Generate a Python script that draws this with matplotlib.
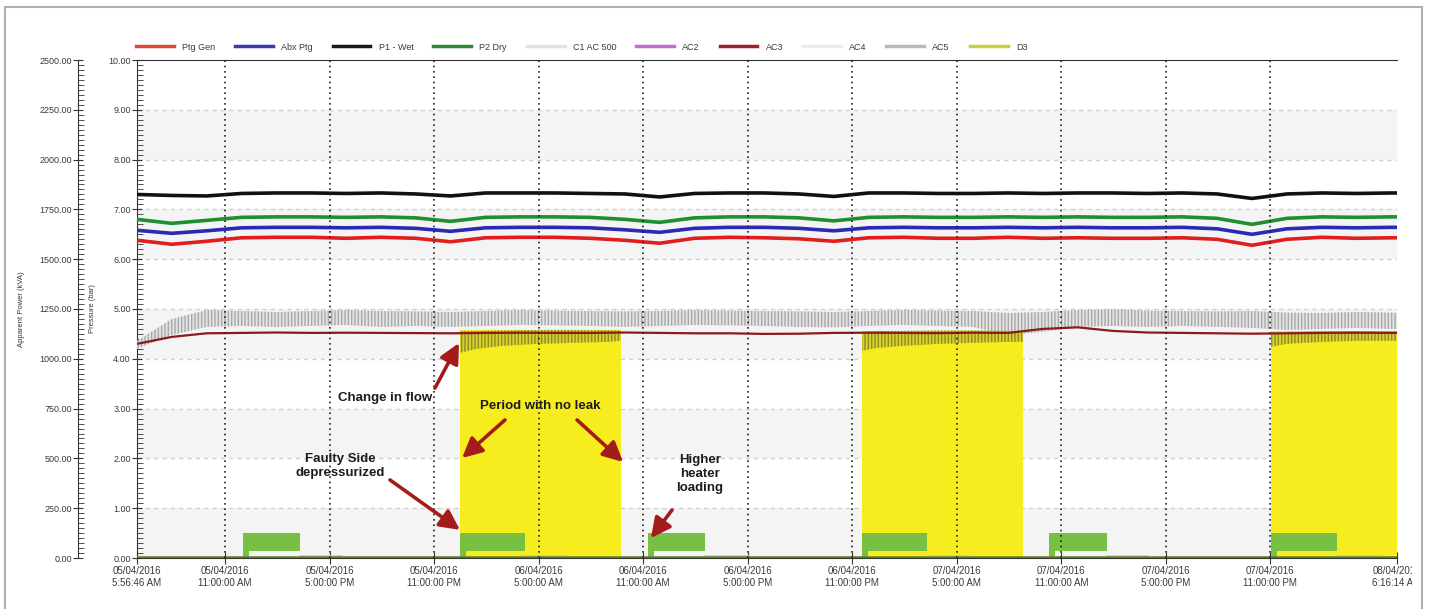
import matplotlib
matplotlib.use('Agg')
import matplotlib.pyplot as plt
from matplotlib.lines import Line2D
from matplotlib.patches import Rectangle
from matplotlib.transforms import Bbox
from matplotlib.ticker import MultipleLocator, FormatStrFormatter
from datetime import datetime, timedelta

plt.rcParams['font.family'] = ['Liberation Sans', 'DejaVu Sans']
plt.rcParams['hatch.linewidth'] = 1.0

# ---------------- data ----------------
start = datetime(2016, 4, 5, 5, 56, 46)
end = datetime(2016, 4, 8, 6, 16, 14)

# hours after start
t_h = [0, 2, 4, 6, 8, 10, 12, 14, 16, 18, 20, 22, 24, 26, 28, 30, 32, 34, 36,
       38, 40, 42, 44, 46, 48, 50, 52, 54, 56, 58, 60, 62, 64, 66, 68, 70, 72, 72.32]

# pressures (bar)
p1_wet = [7.30, 7.28, 7.27, 7.32, 7.33, 7.33, 7.32, 7.33, 7.31, 7.27, 7.33, 7.33, 7.33,
          7.32, 7.31, 7.25, 7.32, 7.33, 7.33, 7.31, 7.26, 7.33, 7.33, 7.32, 7.32, 7.33,
          7.32, 7.33, 7.33, 7.32, 7.33, 7.31, 7.22, 7.31, 7.33, 7.32, 7.33, 7.33]
p2_dry = [6.80, 6.72, 6.78, 6.84, 6.85, 6.85, 6.84, 6.85, 6.83, 6.76, 6.84, 6.85, 6.85,
          6.84, 6.80, 6.74, 6.83, 6.85, 6.85, 6.83, 6.77, 6.84, 6.85, 6.84, 6.84, 6.85,
          6.84, 6.85, 6.84, 6.84, 6.85, 6.82, 6.70, 6.82, 6.85, 6.84, 6.85, 6.85]
abx_ptg = [6.58, 6.52, 6.57, 6.63, 6.64, 6.64, 6.63, 6.64, 6.62, 6.56, 6.63, 6.64, 6.64,
           6.63, 6.59, 6.54, 6.62, 6.64, 6.64, 6.62, 6.57, 6.63, 6.64, 6.63, 6.63, 6.64,
           6.63, 6.64, 6.63, 6.63, 6.64, 6.61, 6.50, 6.61, 6.64, 6.63, 6.64, 6.64]
ptg_gen = [6.38, 6.30, 6.36, 6.43, 6.44, 6.44, 6.42, 6.44, 6.42, 6.35, 6.43, 6.44, 6.44,
           6.42, 6.38, 6.32, 6.42, 6.44, 6.43, 6.41, 6.36, 6.43, 6.44, 6.42, 6.42, 6.44,
           6.42, 6.43, 6.42, 6.42, 6.43, 6.40, 6.28, 6.40, 6.44, 6.42, 6.43, 6.43]

# apparent power (kVA)
ac3 = [1075, 1110, 1128, 1130, 1132, 1130, 1131, 1130, 1129, 1128, 1130, 1131, 1130,
       1130, 1132, 1130, 1128, 1128, 1125, 1126, 1130, 1131, 1130, 1129, 1131, 1130,
       1150, 1158, 1140, 1132, 1130, 1128, 1126, 1128, 1130, 1131, 1130, 1130]
ac5_hi = [1090, 1200, 1245, 1240, 1235, 1240, 1245, 1240, 1238, 1235, 1240, 1245, 1242,
          1240, 1238, 1240, 1245, 1242, 1240, 1238, 1235, 1240, 1245, 1242, 1240, 1230,
          1235, 1245, 1250, 1242, 1240, 1238, 1240, 1232, 1230, 1235, 1232, 1230]
ac5_lo = [1050, 1120, 1160, 1165, 1160, 1165, 1170, 1160, 1165, 1160, 1165, 1170, 1168,
          1165, 1160, 1165, 1170, 1168, 1165, 1160, 1158, 1165, 1170, 1165, 1160, 1120,
          1135, 1160, 1165, 1160, 1165, 1160, 1155, 1145, 1150, 1155, 1150, 1150]

# D3 running periods (hours after start) and its band of values (kVA)
d3_t1 = [18.54, 19.5, 21, 23, 25, 27, 27.78]
d3_hi1 = [1140, 1140, 1142, 1145, 1145, 1143, 1142]
d3_lo1 = [1030, 1050, 1065, 1075, 1080, 1085, 1090]
d3_t2 = [41.62, 42.5, 44, 46, 48, 50, 50.86]
d3_hi2 = [1135, 1140, 1140, 1142, 1142, 1140, 1140]
d3_lo2 = [1040, 1055, 1065, 1075, 1080, 1085, 1085]
d3_t3 = [65.1, 66, 68, 70, 72.32]
d3_hi3 = [1130, 1135, 1138, 1138, 1138]
d3_lo3 = [1060, 1075, 1085, 1090, 1090]
d3_top = [1145, 1140, 1138]

# heater load blocks (hours after start), kVA
block_start = [6.08, 18.54, 29.33, 41.62, 52.35, 65.10]
block_end = [9.36, 22.27, 32.60, 45.35, 55.68, 68.89]
block_top = 125
block_base = 35
tail_end = [11.7, 24.6, 35.0, 47.7, 58.0, 71.2]
tail_level = 12

legend_names = ['Ptg Gen', 'Abx Ptg', 'P1 - Wet', 'P2 Dry', 'C1 AC 500',
                'AC2', 'AC3', 'AC4', 'AC5', 'D3']
legend_colors = ['#e0463a', '#3a3aa8', '#1a1a1a', '#2e8b35', '#e2e2e2',
                 '#c070c8', '#a0202a', '#ececec', '#b8b8b8', '#c8d040']

tick_times = [start, datetime(2016, 4, 5, 11), datetime(2016, 4, 5, 17),
              datetime(2016, 4, 5, 23), datetime(2016, 4, 6, 5), datetime(2016, 4, 6, 11),
              datetime(2016, 4, 6, 17), datetime(2016, 4, 6, 23), datetime(2016, 4, 7, 5),
              datetime(2016, 4, 7, 11), datetime(2016, 4, 7, 17), datetime(2016, 4, 7, 23), end]


def at(hours):
    return [start + timedelta(hours=h) for h in hours]


def fmt(d):
    h12 = d.hour % 12 or 12
    ampm = 'AM' if d.hour < 12 else 'PM'
    return f"{d:%d/%m/%Y}\n{h12}:{d:%M:%S} {ampm}"


# ---------------- figure ----------------
W, H = 1429, 609
fig = plt.figure(figsize=(W / 100, H / 100), dpi=100)
fig.patch.set_facecolor('white')
ax = fig.add_axes([137 / W, (H - 558) / H, 1260 / W, 498 / H])
ax2 = ax.twinx()

ax.set_xlim(start, end)
ax.set_ylim(0, 10)
ax2.set_ylim(0, 2500)

# background bands and horizontal grid
for lo in [0, 2, 4, 6, 8]:
    ax.axhspan(lo, lo + 1, color='#f4f4f4', zorder=0, lw=0)
for y in range(1, 10):
    ax.axhline(y, color='#cfcfcf', lw=1, ls=(0, (3, 3)), zorder=0.5)

# pressure lines
ax.plot(at(t_h), ptg_gen, color='#e01e1e', lw=2.6, zorder=3)
ax.plot(at(t_h), abx_ptg, color='#2a2ab4', lw=2.6, zorder=3)
ax.plot(at(t_h), p2_dry, color='#1f8f2f', lw=2.6, zorder=3)
ax.plot(at(t_h), p1_wet, color='#111111', lw=2.6, zorder=3)

# power series on ax2
ax2.fill_between(at(t_h), ac5_lo, ac5_hi, facecolor='#e4e4e4', edgecolor='#a8a8a8',
                 hatch='|||||', lw=0, zorder=2)
ax2.plot(at(t_h), ac3, color='#8b1a1a', lw=1.6, zorder=3)

for tt, lo_, hi_, top in [(d3_t1, d3_lo1, d3_hi1, d3_top[0]),
                          (d3_t2, d3_lo2, d3_hi2, d3_top[1]),
                          (d3_t3, d3_lo3, d3_hi3, d3_top[2])]:
    ax2.fill_between(at([tt[0], tt[-1]]), 0, top, color='#f7ec1e', lw=0, zorder=2.5)
    ax2.fill_between(at(tt), lo_, hi_, facecolor='#d8d230', edgecolor='#8f8c20',
                     hatch='|||||', lw=0, zorder=2.6)

for s, e, te in zip(block_start, block_end, tail_end):
    ax2.fill_between(at([s, e]), block_base, block_top, color='#77c043', lw=0, zorder=3)
    ax2.fill_between(at([s, s + 0.35]), 0, block_top, color='#77c043', lw=0, zorder=3)
    ax2.plot(at([e, te]), [tail_level, tail_level], color='#c9d6b8', lw=2, zorder=2.8)

ax2.plot([start, end], [0, 0], color='#c070c8', lw=1.5, zorder=3.1)
ax2.plot([start, end], [3, 3], color='#5f7d1f', lw=1.8, zorder=3.2)

# vertical dotted grid
for t in tick_times[1:-1]:
    ax2.axvline(t, color='#222222', lw=1.2, ls=(0, (1, 2.2)), zorder=5)

# ticks
ax.set_xticks(tick_times)
ax.set_xticklabels([fmt(t) for t in tick_times])
ax.tick_params(axis='x', direction='inout', length=8, labelsize=7, colors='#333333',
               labelcolor='#3a3a3a', pad=2)
ax.yaxis.set_major_locator(MultipleLocator(1))
ax.yaxis.set_minor_locator(MultipleLocator(0.1))
ax.yaxis.set_major_formatter(FormatStrFormatter('%.2f'))
ax.tick_params(axis='y', which='major', direction='inout', length=7, labelsize=6.5,
               colors='#333333', labelcolor='#3a3a3a', pad=1)
ax.tick_params(axis='y', which='minor', direction='in', length=4, colors='#333333')

ax2.yaxis.tick_left()
ax2.yaxis.set_label_position('left')
ax2.spines['left'].set_position(('outward', 42.5))
ax2.yaxis.set_major_locator(MultipleLocator(250))
ax2.yaxis.set_minor_locator(MultipleLocator(25))
ax2.yaxis.set_major_formatter(FormatStrFormatter('%.2f'))
ax2.tick_params(axis='y', which='major', direction='inout', length=7, labelsize=6.5,
                colors='#333333', labelcolor='#3a3a3a', pad=1)
ax2.tick_params(axis='y', which='minor', direction='in', length=4, colors='#333333')

for sp in ['right']:
    ax.spines[sp].set_visible(False)
for sp in ['right', 'top', 'bottom']:
    ax2.spines[sp].set_visible(False)
for sp in ['left', 'bottom', 'top']:
    ax.spines[sp].set_color('#333333')
ax2.spines['left'].set_color('#333333')
ax.spines['top'].set_linewidth(0.8)

ax2.set_ylabel('Apparent Power (kVA)', fontsize=5.5, color='#333333')
ax2.yaxis.set_label_coords((25 - 137) / 1260, 0.5)
ax.set_ylabel('Pressure (bar)', fontsize=5.5, color='#333333')
ax.yaxis.set_label_coords((96 - 137) / 1260, 0.5)

# clip last tick label like the original
last = ax.get_xticklabels()[-1]
last.set_clip_on(True)
last.set_clip_box(Bbox([[0, 0], [1412, H]]))

# annotations
arrow_kw = dict(arrowstyle='-|>,head_width=0.5,head_length=1.0', color='#a31b1b', lw=2.6,
                shrinkA=0, shrinkB=0, mutation_scale=12)
txt_kw = dict(ha='center', va='center', fontsize=9.5, fontweight='bold', color='#1c1c1c',
              zorder=10)

ax2.text(at([14.24])[0], 803, 'Change in flow', **txt_kw)
ax2.annotate('', xy=(at([18.48])[0], 1079), xytext=(at([17.1])[0], 853),
             arrowprops=arrow_kw, zorder=10)

ax2.text(at([23.13])[0], 763, 'Period with no leak', **txt_kw)
ax2.annotate('', xy=(at([18.66])[0], 502), xytext=(at([21.12])[0], 693),
             arrowprops=arrow_kw, zorder=10)
ax2.annotate('', xy=(at([27.9])[0], 482), xytext=(at([25.26])[0], 693),
             arrowprops=arrow_kw, zorder=10)

ax2.text(at([11.65])[0], 462, 'Faulty Side\ndepressurized', linespacing=1.25, **txt_kw)
ax2.annotate('', xy=(at([18.54])[0], 141), xytext=(at([14.52])[0], 392),
             arrowprops=arrow_kw, zorder=10)

ax2.text(at([32.32])[0], 422, 'Higher\nheater\nloading', linespacing=1.2, **txt_kw)
ax2.annotate('', xy=(at([29.5])[0], 100), xytext=(at([30.71])[0], 241),
             arrowprops=arrow_kw, zorder=10)

# legend
handles = [Line2D([0], [0], color=c, lw=2.5) for c in legend_colors]
fig.legend(handles, legend_names, ncol=10, loc='center left',
           bbox_to_anchor=(136 / W, 1 - 47 / H), frameon=False, fontsize=6.5,
           handlelength=4.2, handletextpad=0.9, columnspacing=2.2, borderpad=0,
           borderaxespad=0, labelcolor='#3a3a3a')

# outer frame
fig.add_artist(Rectangle((5 / W, -0.02), (1422 - 5) / W, 1.02 - 7 / H,
                         transform=fig.transFigure, fill=False, edgecolor='#b0b0b0', lw=1.5))

fig.savefig('out.png', dpi=100)
